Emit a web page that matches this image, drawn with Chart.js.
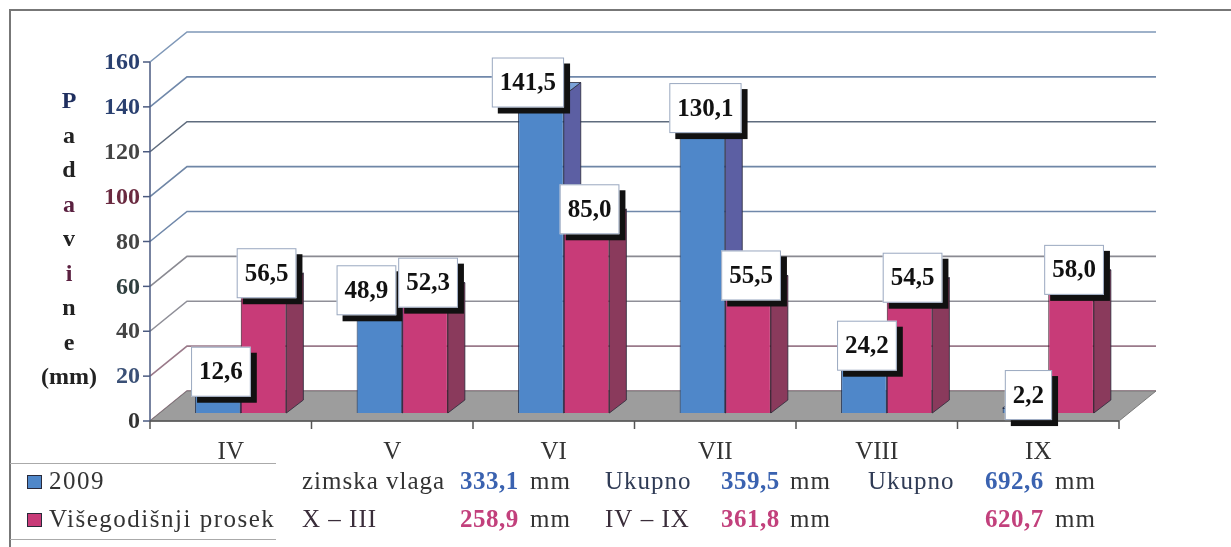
<!DOCTYPE html>
<html lang="sr">
<head>
<meta charset="UTF-8">
<title>Padavine</title>
<script src="https://cdn.jsdelivr.net/npm/chart.js"></script>
<style>
  body { margin:0; background:#fff; }
  #wrap { width:1231px; height:547px; }
</style>
</head>
<body>
<div id="wrap"><canvas id="myChart" width="1231" height="547"></canvas></div>
<script>
// podaci
const months = ['IV', 'V', 'VI', 'VII', 'VIII', 'IX'];
const rain2009 = [12.6, 48.9, 141.5, 130.1, 24.2, 2.2];
const rainAvg = [56.5, 52.3, 85.0, 55.5, 54.5, 58.0];
const yTicks = [0, 20, 40, 60, 80, 100, 120, 140, 160];
const yTitle = ['P', 'a', 'd', 'a', 'v', 'i', 'n', 'e', '(mm)'];
const seriesNames = ['2009', 'Višegodišnji prosek'];

// tabela ispod grafika
const winterLabel = ['zimska vlaga', 'X – III'];
const winterVals = [333.1, 258.9];
const seasonLabel = ['Ukupno', 'IV – IX'];
const seasonVals = [359.5, 361.8];
const yearLabel = ['Ukupno', ''];
const yearVals = [692.6, 620.7];

// 3D pomaci
const FX = -10, FY = 8;      // prednja ravan u odnosu na stubove
const WX = 37, WY = -30;     // dubina zida
const DX = 17, DY = -13;     // dubina stuba
const labelShift = [[0, -16, -16, 0, 0, 0], [0, 0, 0, 0, 0, 0]];

const gridColors = ['#9a6a80', '#9a7a8a', '#8f8f98', '#8a8a92', '#7088aa', '#6f86a6', '#5f6c7e', '#7088aa', '#7f98b8'];
const tickColors = ['#333', '#3a5076', '#444', '#2f3f3f', '#444', '#6a2a40', '#444', '#2a4070', '#2a4070'];
const titleColors = ['#1f2f5f', '#222', '#222', '#5a2040', '#222', '#5a2040', '#222', '#222', '#222'];
const sideColors = ['#5c5fa3', '#8a3a5c'];
const topColors = ['#7aa2d8', '#dc6f9f'];

const SERIF = '"Liberation Serif", "DejaVu Serif", serif';
const fmt = v => v.toFixed(1).replace('.', ',');

const chart3d = {
    id: 'chart3d',
    beforeDraw(chart) {
        const ctx = chart.ctx;
        ctx.save();
        ctx.fillStyle = '#fff';
        ctx.fillRect(0, 0, chart.width, chart.height);
        ctx.restore();
    },
    beforeDatasetsDraw(chart) {
        const ctx = chart.ctx, a = chart.chartArea, y = chart.scales.y;
        const x0 = a.left + FX, x1 = a.right + FX;
        const yF = v => y.getPixelForValue(v) + FY;
        ctx.save();
        // linije mreze
        yTicks.forEach((v, i) => {
            ctx.strokeStyle = gridColors[i];
            ctx.lineWidth = 1.6;
            ctx.beginPath();
            ctx.moveTo(x0, yF(v));
            ctx.lineTo(x0 + WX, yF(v) + WY);
            ctx.lineTo(x1 + WX, yF(v) + WY);
            ctx.stroke();
        });
        // pod
        const b = yF(0);
        ctx.fillStyle = '#9d9d9d';
        ctx.strokeStyle = '#7a7a7a';
        ctx.lineWidth = 1;
        ctx.beginPath();
        ctx.moveTo(x0, b);
        ctx.lineTo(x1, b);
        ctx.lineTo(x1 + WX, b + WY);
        ctx.lineTo(x0 + WX, b + WY);
        ctx.closePath();
        ctx.fill();
        ctx.stroke();
        // y osa
        ctx.strokeStyle = '#4a5a80';
        ctx.lineWidth = 1.5;
        ctx.beginPath();
        ctx.moveTo(x0, yF(0));
        ctx.lineTo(x0, yF(yTicks[yTicks.length - 1]));
        ctx.stroke();
        yTicks.forEach(v => {
            ctx.beginPath();
            ctx.moveTo(x0 - 7, yF(v));
            ctx.lineTo(x0, yF(v));
            ctx.stroke();
        });
        // x osa
        ctx.strokeStyle = '#555';
        ctx.beginPath();
        ctx.moveTo(x0, b);
        ctx.lineTo(x1, b);
        ctx.stroke();
        const cw = (x1 - x0) / months.length;
        for (let k = 0; k <= months.length; k++) {
            ctx.beginPath();
            ctx.moveTo(x0 + k * cw, b);
            ctx.lineTo(x0 + k * cw, b + 8);
            ctx.stroke();
        }
        // bocne i gornje strane stubova
        chart.data.datasets.forEach((ds, di) => {
            chart.getDatasetMeta(di).data.forEach(el => {
                const xl = el.x - el.width / 2, xr = el.x + el.width / 2;
                ctx.strokeStyle = '#2a2a3a';
                ctx.lineWidth = 0.8;
                ctx.fillStyle = sideColors[di];
                ctx.beginPath();
                ctx.moveTo(xr, el.y);
                ctx.lineTo(xr + DX, el.y + DY);
                ctx.lineTo(xr + DX, el.base + DY);
                ctx.lineTo(xr, el.base);
                ctx.closePath();
                ctx.fill();
                ctx.stroke();
                ctx.fillStyle = topColors[di];
                ctx.beginPath();
                ctx.moveTo(xl, el.y);
                ctx.lineTo(xl + DX, el.y + DY);
                ctx.lineTo(xr + DX, el.y + DY);
                ctx.lineTo(xr, el.y);
                ctx.closePath();
                ctx.fill();
                ctx.stroke();
            });
        });
        ctx.restore();
    },
    afterDatasetsDraw(chart) {
        const ctx = chart.ctx;
        ctx.save();
        ctx.font = 'bold 25px ' + SERIF;
        ctx.textAlign = 'center';
        ctx.textBaseline = 'middle';
        chart.data.datasets.forEach((ds, di) => {
            chart.getDatasetMeta(di).data.forEach((el, i) => {
                const txt = fmt(ds.data[i]);
                const w = ctx.measureText(txt).width + 16, h = 50;
                const cx = el.x + 3 + labelShift[di][i], cy = el.y - 13;
                ctx.fillStyle = '#111';
                ctx.fillRect(cx - w / 2 + 6, cy - h / 2 + 6, w, h);
                ctx.fillStyle = '#fff';
                ctx.fillRect(cx - w / 2, cy - h / 2, w, h);
                ctx.strokeStyle = '#9aa8c0';
                ctx.lineWidth = 1;
                ctx.strokeRect(cx - w / 2 + 0.5, cy - h / 2 + 0.5, w - 1, h - 1);
                ctx.fillStyle = '#111';
                ctx.fillText(txt, cx, cy + 1);
            });
        });
        ctx.restore();
    },
    afterDraw(chart) {
        const ctx = chart.ctx, a = chart.chartArea, y = chart.scales.y, x = chart.scales.x;
        const x0 = a.left + FX;
        ctx.save();
        // okvir
        ctx.strokeStyle = '#777';
        ctx.lineWidth = 2;
        ctx.beginPath();
        ctx.moveTo(10, chart.height);
        ctx.lineTo(10, 10);
        ctx.lineTo(chart.width, 10);
        ctx.stroke();
        // y oznake
        ctx.font = 'bold 24px ' + SERIF;
        ctx.textAlign = 'right';
        ctx.textBaseline = 'middle';
        yTicks.forEach((v, i) => {
            ctx.fillStyle = tickColors[i];
            ctx.fillText(String(v), x0 - 10, y.getPixelForValue(v) + FY + 1);
        });
        // naslov y ose
        ctx.font = 'bold 24px ' + SERIF;
        ctx.textAlign = 'center';
        ctx.textBaseline = 'alphabetic';
        yTitle.forEach((t, i) => {
            ctx.fillStyle = titleColors[i];
            ctx.fillText(t, 69, 108 + i * 34.5);
        });
        // kategorije
        ctx.font = '25px ' + SERIF;
        ctx.fillStyle = '#333';
        months.forEach((m, i) => {
            ctx.fillText(m, x.getPixelForValue(i) + FX, 459);
        });
        // legenda
        ctx.strokeStyle = '#aaa';
        ctx.lineWidth = 1;
        ctx.beginPath();
        ctx.moveTo(10, 463.5); ctx.lineTo(276, 463.5);
        ctx.moveTo(10, 539.5); ctx.lineTo(276, 539.5);
        ctx.stroke();
        const rows = [489, 527];
        ctx.textAlign = 'left';
        ctx.font = '25px ' + SERIF;
        ctx.letterSpacing = '1.5px';
        chart.data.datasets.forEach((ds, di) => {
            ctx.fillStyle = ds.backgroundColor;
            ctx.fillRect(27, rows[di] - 14, 15, 14);
            ctx.strokeStyle = '#2a2a3a';
            ctx.strokeRect(27.5, rows[di] - 13.5, 14, 13);
            ctx.fillStyle = '#333';
            ctx.fillText(ds.label, 49, rows[di]);
        });
        // tabela
        const valColors = ['#3a62b0', '#c2407c'];
        const cols = [
            { lx: 302, labels: winterLabel, vx: 460, vals: winterVals, mx: 530, lc: '#333' },
            { lx: 605, labels: seasonLabel, vx: 721, vals: seasonVals, mx: 790, lc: '#2f3b55' },
            { lx: 868, labels: yearLabel, vx: 985, vals: yearVals, mx: 1055, lc: '#2f3b55' }
        ];
        cols.forEach(c => {
            rows.forEach((ry, r) => {
                ctx.letterSpacing = '1px';
                ctx.font = '25px ' + SERIF;
                ctx.fillStyle = r === 0 ? c.lc : '#3a2d3a';
                ctx.fillText(c.labels[r], c.lx, ry);
                ctx.fillStyle = '#333';
                ctx.fillText('mm', c.mx, ry);
                ctx.letterSpacing = '0.5px';
                ctx.font = 'bold 25px ' + SERIF;
                ctx.fillStyle = valColors[r];
                ctx.fillText(fmt(c.vals[r]), c.vx, ry);
            });
        });
        ctx.letterSpacing = '0px';
        ctx.restore();
    }
};

new Chart(document.getElementById('myChart'), {
    type: 'bar',
    data: {
        labels: months,
        datasets: [
            { label: seriesNames[0], data: rain2009, backgroundColor: '#4f87c9', borderColor: '#1f2f4f', borderWidth: 1 },
            { label: seriesNames[1], data: rainAvg, backgroundColor: '#c83b78', borderColor: '#3a1a2a', borderWidth: 1 }
        ]
    },
    options: {
        responsive: false,
        animation: false,
        devicePixelRatio: 1,
        categoryPercentage: 0.565,
        barPercentage: 1,
        layout: { padding: { left: 160, right: 102, top: 54, bottom: 134 } },
        plugins: { legend: { display: false }, tooltip: { enabled: false } },
        scales: {
            x: { display: false },
            y: { display: false, min: 0, max: 160, ticks: { stepSize: 20 } }
        }
    },
    plugins: [chart3d]
});
</script>
</body>
</html>
